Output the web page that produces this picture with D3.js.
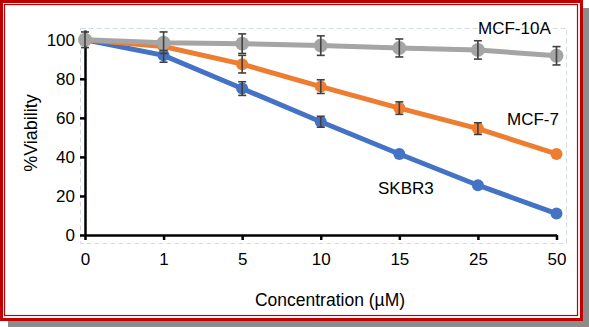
<!DOCTYPE html>
<html><head><meta charset="utf-8">
<script src="https://cdn.jsdelivr.net/npm/d3@7"></script>
<style>html,body{margin:0;padding:0;background:#fff;}svg{display:block;font-family:"Liberation Sans",Arial,sans-serif;}</style>
</head><body><svg id="c" width="589" height="327"></svg>
<script>
const categories = ["0","1","5","10","15","25","50"];
const yTicks = [0,20,40,60,80,100];
const seriesNames = ["SKBR3","MCF-7","MCF-10A"];
const skbr3 = [100,92,75,58,41.5,25.5,11];
const skbr3Err = [0,3.5,3.5,2.8,0,0,0];
const mcf7 = [100,96.5,87.5,76,65,54.5,41.5];
const mcf7Err = [0,2,4.5,3.5,3.2,3,0];
const mcf10aVals = [100,98.5,98,97,95.8,94.8,91.8];
const mcf10aErr = [4,5.5,5,5,4.6,4.7,4.7];
const colors = ["#4472C4","#ED7D31","#A5A5A5"];
const labelPos = [[378,194],[507,125],[478,34]];

const svg = d3.select("#c");
svg.append("rect").attr("x",8).attr("y",8).attr("width",581).attr("height",319).attr("fill","#8c8c8c");
svg.append("rect").attr("x",0).attr("y",0).attr("width",583).attr("height",321).attr("fill","#fff");
svg.append("rect").attr("x",1.5).attr("y",1.5).attr("width",580).attr("height",318).attr("fill","none").attr("stroke","#C00000").attr("stroke-width",3);
svg.append("rect").attr("x",4.5).attr("y",4.5).attr("width",573).attr("height",311).attr("fill","none").attr("stroke","#C00000").attr("stroke-width",1.2);

svg.append("rect").attr("x",80.5).attr("y",28.5).attr("width",486).attr("height",215).attr("fill","none")
  .attr("stroke","#d3dbe5").attr("stroke-width",1).attr("stroke-dasharray","5,3");

const x = d3.scalePoint().domain(categories).range([85,556.5]);
const y = d3.scaleLinear().domain([0,105]).range([235,30]);

const xAxis = svg.append("g").attr("transform","translate(0,235)")
  .call(d3.axisBottom(x).tickSize(5).tickSizeOuter(0).tickPadding(25));
const yAxis = svg.append("g").attr("transform","translate(85,0)")
  .call(d3.axisLeft(y).tickValues(yTicks).tickSize(5).tickSizeOuter(0).tickPadding(5));
[xAxis,yAxis].forEach(g=>{
  g.select(".domain").attr("stroke","#000").attr("stroke-width",2.5);
  g.selectAll(".tick line").attr("stroke","#000").attr("stroke-width",2.5);
  g.selectAll(".tick text").attr("fill","#000").style("font-size","17px").style("font-family","'Liberation Sans',Arial,sans-serif");
});
xAxis.selectAll(".tick text").attr("dy","0");
yAxis.selectAll(".tick text").attr("x",-10);

const data = [[skbr3,skbr3Err],[mcf7,mcf7Err],[mcf10aVals,mcf10aErr]];
const line = d3.line().x((d,i)=>x(categories[i])).y(d=>y(d));
data.forEach(([vals,errs],si)=>{
  const g = svg.append("g");
  g.append("path").datum(vals).attr("d",line).attr("fill","none").attr("stroke",colors[si]).attr("stroke-width",5);
  g.selectAll("circle").data(vals).join("circle").attr("cx",(d,i)=>x(categories[i])).attr("cy",d=>y(d)).attr("r",si===2?7:6).attr("fill",colors[si]);
  const pts = vals.map((v,i)=>({v,e:errs[i],c:categories[i]})).filter(p=>p.e>0);
  const eb = g.selectAll("g.eb").data(pts).join("g").attr("stroke","#404040").attr("stroke-width",1.6);
  eb.append("line").attr("x1",p=>x(p.c)).attr("x2",p=>x(p.c)).attr("y1",p=>y(p.v+p.e)).attr("y2",p=>y(p.v-p.e));
  eb.append("line").attr("x1",p=>x(p.c)-4).attr("x2",p=>x(p.c)+4).attr("y1",p=>y(p.v+p.e)).attr("y2",p=>y(p.v+p.e));
  eb.append("line").attr("x1",p=>x(p.c)-4).attr("x2",p=>x(p.c)+4).attr("y1",p=>y(p.v-p.e)).attr("y2",p=>y(p.v-p.e));
  svg.append("text").attr("x",labelPos[si][0]).attr("y",labelPos[si][1]).attr("fill","#000").style("font-size","17px").text(seriesNames[si]);
});

svg.append("text").attr("x",330).attr("y",306).attr("text-anchor","middle").style("font-size","17.5px").text("Concentration (µM)");
svg.append("text").attr("transform","translate(37,133) rotate(-90)").attr("text-anchor","middle").style("font-size","18px").text("%Viability");
</script></body></html>
